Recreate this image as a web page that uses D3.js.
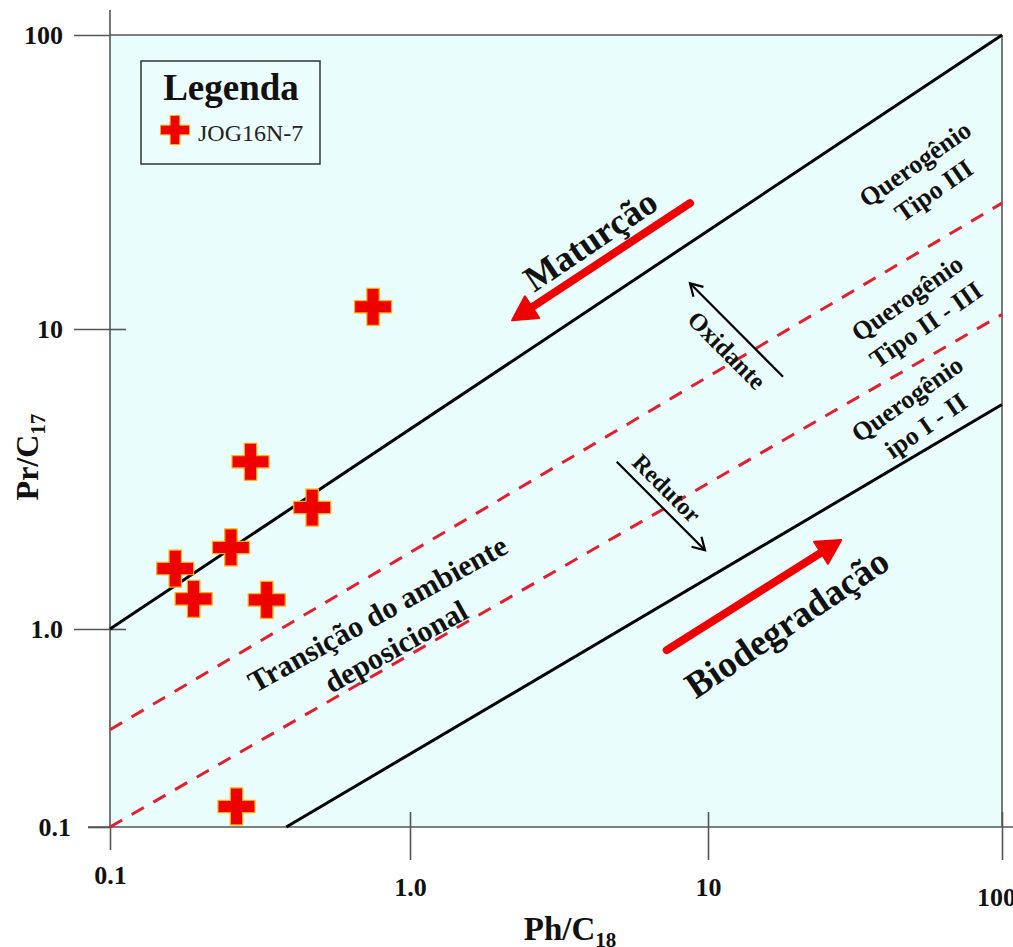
<!DOCTYPE html>
<html>
<head>
<meta charset="utf-8">
<script src="https://cdn.jsdelivr.net/npm/d3@7"></script>
<style>
  body { margin: 0; background: #fff; }
  svg { display: block; font-family: 'Liberation Serif', 'Times New Roman', serif; }
</style>
</head>
<body>
<svg id="chart" width="1013" height="947"></svg>
<script>
// sample JOG16N-7
const phC18 = [0.753, 0.294, 0.472, 0.253, 0.165, 0.19, 0.333, 0.264];
const prC17 = [11.9, 3.61, 2.54, 1.87, 1.59, 1.26, 1.25, 0.127];

const tickValues = [0.1, 1, 10, 100];
const tickLabels = ['0.1', '1.0', '10', '100'];

// field boundaries as [Ph/C18, Pr/C17] end points
const upperSolid = [[0.1, 1], [100, 100]];
const upperDashed = [[0.1, 0.31], [100, 26.8]];
const lowerDashed = [[0.1, 0.1], [100, 11.2]];
const lowerSolid = [[0.387, 0.1], [100, 5.6]];

// trend arrows, tail -> head
const maturacaoArrow = [[8.7, 26.8], [2.2, 10.7]];
const biodegradacaoArrow = [[7.27, 0.783], [28.4, 1.98]];
const oxidanteArrow = [[18.0, 6.93], [8.7, 14.3]];
const redutorArrow = [[4.94, 3.61], [9.77, 1.83]];

const annotations = [
  {lines: ['Maturção'], at: [4.02, 20.1], angle: -34, size: 36},
  {lines: ['Biodegradação'], at: [18.5, 1.05], angle: -34, size: 37},
  {lines: ['Oxidante'], at: [11.6, 8.51], angle: 45, size: 25},
  {lines: ['Redutor'], at: [7.28, 2.95], angle: 45, size: 24},
  {lines: ['Transição do ambiente', 'deposicional'], at: [0.835, 0.99], angle: -29, size: 30},
  {lines: ['Querogênio', 'Tipo III'], at: [54.4, 32.9], angle: -35, size: 26},
  {lines: ['Querogênio', 'Tipo II - III'], at: [51.1, 11.5], angle: -35, size: 26},
  {lines: ['Querogênio', 'ipo I - II'], at: [51.1, 5.29], angle: -35, size: 26},
];

const svg = d3.select('#chart');
const axisColor = '#555';
const red = '#ee0000';

const x = d3.scaleLog().domain(tickValues).range([110, 410, 708, 1002]);
const y = d3.scaleLog().domain(tickValues).range([827, 629, 329, 35]);

const pLeft = x(0.1), pRight = x(100), pTop = y(100), pBottom = y(0.1);

// plot background
svg.append('rect')
  .attr('x', pLeft).attr('y', pTop)
  .attr('width', pRight - pLeft).attr('height', pBottom - pTop)
  .attr('fill', '#e9fdfd');

// frame
const frame = svg.append('g').attr('stroke', axisColor).attr('stroke-width', 1.6);
frame.append('line').attr('x1', pLeft).attr('x2', pLeft).attr('y1', 10).attr('y2', pBottom);
frame.append('line').attr('x1', pLeft - 22).attr('x2', 1013).attr('y1', pBottom).attr('y2', pBottom);
frame.append('line').attr('x1', pLeft).attr('x2', pRight).attr('y1', pTop).attr('y2', pTop);
frame.append('line').attr('x1', pRight).attr('x2', pRight).attr('y1', pTop).attr('y2', pBottom);

// y axis
const yAxis = svg.append('g')
  .attr('transform', 'translate(' + pLeft + ',0)')
  .call(d3.axisLeft(y).tickValues(tickValues)
    .tickFormat((d, i) => tickLabels[i]).tickSize(36).tickPadding(11));
yAxis.select('.domain').remove();
yAxis.selectAll('.tick line').attr('stroke', axisColor).attr('stroke-width', 1.6)
  .attr('x2', d => d === 0.1 ? -22 : -36);
yAxis.selectAll('.tick')
  .filter(d => d !== 0.1 && d !== 100)
  .append('line').attr('x1', 0).attr('x2', 16)
  .attr('stroke', axisColor).attr('stroke-width', 1.6);
yAxis.selectAll('.tick text')
  .attr('x', d => d === 0.1 ? -39 : -47)
  .attr('fill', '#111')
  .style('font', 'bold 26px "Liberation Serif", serif');

// x axis
const labelDrop = {0.1: 48, 1: 60, 10: 60, 100: 70};
const xAxis = svg.append('g')
  .attr('transform', 'translate(0,' + pBottom + ')')
  .call(d3.axisBottom(x).tickValues(tickValues)
    .tickFormat((d, i) => tickLabels[i]).tickSize(33));
xAxis.select('.domain').remove();
xAxis.selectAll('.tick line').attr('stroke', axisColor).attr('stroke-width', 1.6)
  .attr('y1', d => d === 0.1 ? 0 : -15)
  .attr('y2', d => d === 0.1 ? 23 : 33);
xAxis.selectAll('.tick text')
  .attr('y', d => labelDrop[d])
  .attr('dx', d => d === 100 ? -6 : 0)
  .attr('dy', '0.35em')
  .attr('fill', '#111')
  .style('font', 'bold 26px "Liberation Serif", serif');

// axis titles
const xTitle = svg.append('text')
  .attr('x', 570).attr('y', 940)
  .attr('text-anchor', 'middle')
  .style('font', 'bold 33px "Liberation Serif", serif')
  .attr('fill', '#111');
xTitle.append('tspan').text('Ph/C');
xTitle.append('tspan').attr('dy', 7).style('font-size', '21px').text('18');

const yTitle = svg.append('text')
  .attr('transform', 'translate(38,457) rotate(-90)')
  .attr('text-anchor', 'middle')
  .style('font', 'bold 32px "Liberation Serif", serif')
  .attr('fill', '#111');
yTitle.append('tspan').text('Pr/C');
yTitle.append('tspan').attr('dy', 7).style('font-size', '21px').text('17');

// boundaries
const line = d3.line().x(d => x(d[0])).y(d => y(d[1]));
const plot = svg.append('g');

[upperSolid, lowerSolid].forEach(pts => {
  plot.append('path').attr('d', line(pts))
    .attr('fill', 'none').attr('stroke', '#000').attr('stroke-width', 3);
});
[upperDashed, lowerDashed].forEach(pts => {
  plot.append('path').attr('d', line(pts))
    .attr('fill', 'none').attr('stroke', '#e0202e').attr('stroke-width', 3)
    .attr('stroke-dasharray', '14,11');
});

// arrows
function drawArrow(pts, opts) {
  const x0 = x(pts[0][0]), y0 = y(pts[0][1]);
  const x1 = x(pts[1][0]), y1 = y(pts[1][1]);
  const ang = Math.atan2(y1 - y0, x1 - x0);
  const ux = Math.cos(ang), uy = Math.sin(ang);
  const px = -uy, py = ux;
  const bx = x1 - ux * opts.headLen, by = y1 - uy * opts.headLen;
  if (opts.filled) {
    plot.append('line')
      .attr('x1', x0).attr('y1', y0).attr('x2', bx + ux * 2).attr('y2', by + uy * 2)
      .attr('stroke', opts.color).attr('stroke-width', opts.width)
      .attr('stroke-linecap', 'round');
    plot.append('path')
      .attr('d', 'M' + x1 + ',' + y1 +
        'L' + (bx + px * opts.headW) + ',' + (by + py * opts.headW) +
        'L' + (bx - px * opts.headW) + ',' + (by - py * opts.headW) + 'Z')
      .attr('fill', opts.color).attr('stroke', opts.color)
      .attr('stroke-width', 2).attr('stroke-linejoin', 'round');
  } else {
    plot.append('line')
      .attr('x1', x0).attr('y1', y0).attr('x2', x1).attr('y2', y1)
      .attr('stroke', opts.color).attr('stroke-width', opts.width);
    plot.append('path')
      .attr('d', 'M' + (bx + px * opts.headW) + ',' + (by + py * opts.headW) +
        'L' + x1 + ',' + y1 +
        'L' + (bx - px * opts.headW) + ',' + (by - py * opts.headW))
      .attr('fill', 'none').attr('stroke', opts.color).attr('stroke-width', opts.width);
  }
}

drawArrow(maturacaoArrow, {filled: true, color: red, width: 8, headLen: 24, headW: 13});
drawArrow(biodegradacaoArrow, {filled: true, color: red, width: 8, headLen: 24, headW: 13});
drawArrow(oxidanteArrow, {filled: false, color: '#000', width: 2.2, headLen: 12, headW: 7});
drawArrow(redutorArrow, {filled: false, color: '#000', width: 2.2, headLen: 12, headW: 7});

// annotation texts
annotations.forEach(a => {
  const g = plot.append('g')
    .attr('transform', 'translate(' + x(a.at[0]) + ',' + y(a.at[1]) + ') rotate(' + a.angle + ')');
  const lh = a.size * 1.25;
  const t = g.append('text')
    .attr('text-anchor', 'middle')
    .attr('fill', '#111')
    .style('font', 'bold ' + a.size + 'px "Liberation Serif", serif');
  a.lines.forEach((s, i) => {
    t.append('tspan')
      .attr('x', 0)
      .attr('y', (i - (a.lines.length - 1) / 2) * lh)
      .attr('dy', '0.35em')
      .text(s);
  });
});

// samples
const cross = d3.symbol().type(d3.symbolCross);
plot.selectAll('.sample')
  .data(phC18.map((v, i) => [v, prC17[i]]))
  .enter().append('path')
  .attr('class', 'sample')
  .attr('transform', d => 'translate(' + x(d[0]) + ',' + y(d[1]) + ')')
  .attr('d', cross.size(760)())
  .attr('fill', red)
  .attr('stroke', '#ffb000')
  .attr('stroke-width', 1.2);

// legend
const legend = svg.append('g');
legend.append('rect')
  .attr('x', 141).attr('y', 61).attr('width', 179).attr('height', 103)
  .attr('fill', '#ebfdfd').attr('stroke', '#333').attr('stroke-width', 1.5);
legend.append('text')
  .attr('x', 231).attr('y', 100)
  .attr('text-anchor', 'middle')
  .attr('fill', '#111')
  .style('font', 'bold 37px "Liberation Serif", serif')
  .text('Legenda');
legend.append('path')
  .attr('transform', 'translate(175,130)')
  .attr('d', cross.size(470)())
  .attr('fill', red).attr('stroke', '#ffb000').attr('stroke-width', 1);
legend.append('text')
  .attr('x', 198).attr('y', 141)
  .attr('fill', '#222')
  .style('font', '24px "Liberation Serif", serif')
  .text('JOG16N-7');
</script>
</body>
</html>
